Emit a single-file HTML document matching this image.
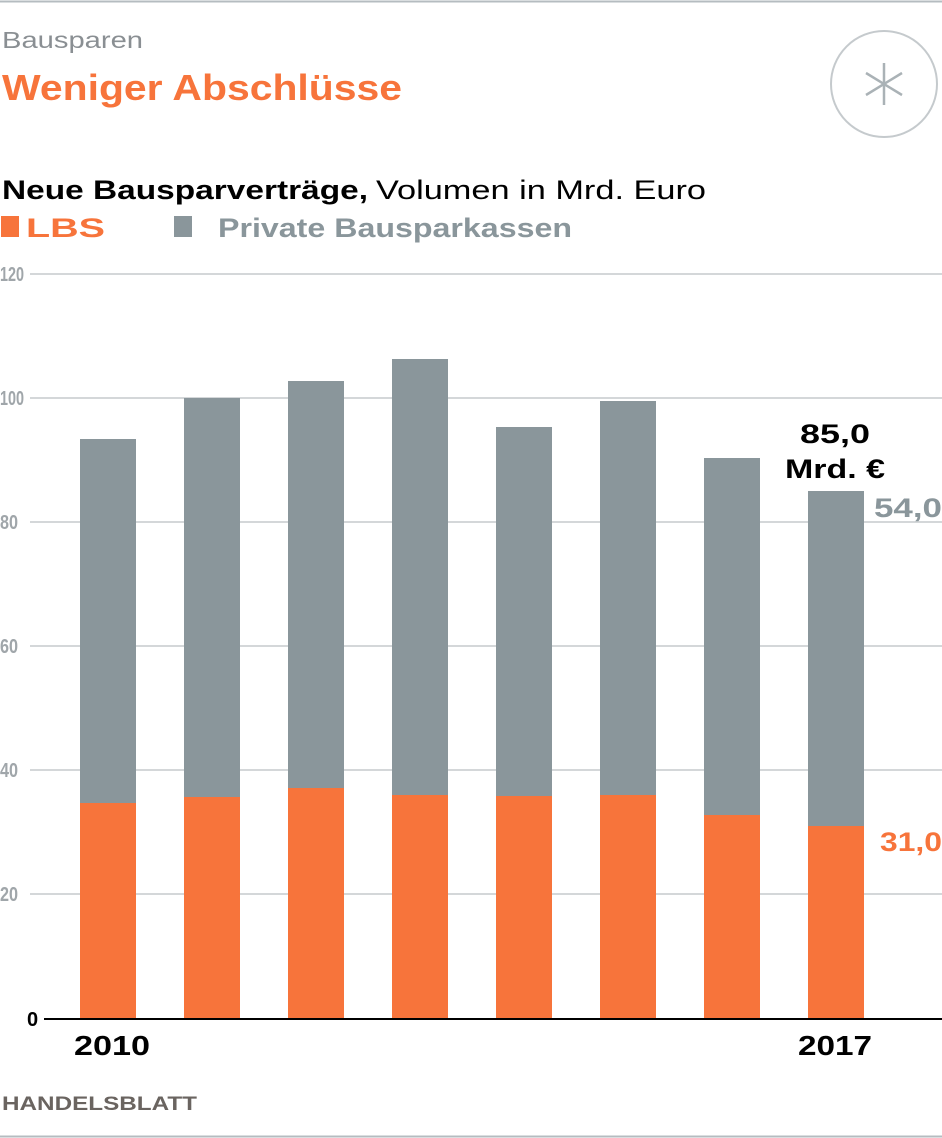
<!DOCTYPE html>
<html><head><meta charset="utf-8"><style>
body{margin:0;background:#fff;}
svg{display:block;font-family:"Liberation Sans",sans-serif;}
</style></head><body>
<svg width="942" height="1138" xmlns="http://www.w3.org/2000/svg">
<rect width="942" height="1138" fill="#fff"/>
<line x1="0" y1="1.5" x2="942" y2="1.5" stroke="#b5bcc0" stroke-width="2"/>
<line x1="0" y1="1136.5" x2="942" y2="1136.5" stroke="#b5bcc0" stroke-width="2"/>
<text x="2" y="48" font-size="23" fill="#8a8f93" textLength="141" lengthAdjust="spacingAndGlyphs">Bausparen</text>
<text x="2" y="100" font-size="36" font-weight="bold" fill="#f7743b" textLength="400" lengthAdjust="spacingAndGlyphs">Weniger Abschlüsse</text>
<circle cx="884" cy="84" r="53" fill="none" stroke="#c5cacd" stroke-width="2"/>
<g stroke="#aab2b6" stroke-width="2.5">
<line x1="884" y1="63" x2="884" y2="105"/>
<line x1="866" y1="73" x2="902" y2="95"/>
<line x1="866" y1="95" x2="902" y2="73"/>
</g>
<text x="2" y="199" font-size="27" font-weight="bold" fill="#000" textLength="366" lengthAdjust="spacingAndGlyphs">Neue Bausparverträge,</text>
<text x="376" y="199" font-size="27" fill="#000" textLength="330" lengthAdjust="spacingAndGlyphs">Volumen in Mrd. Euro</text>
<rect x="1" y="216" width="18" height="21" fill="#f7743b"/>
<text x="26" y="237" font-size="27" font-weight="bold" fill="#f7743b" textLength="79" lengthAdjust="spacingAndGlyphs">LBS</text>
<rect x="174" y="216" width="18" height="21" fill="#8a969b"/>
<text x="218" y="237" font-size="27" font-weight="bold" fill="#8a969b" textLength="354" lengthAdjust="spacingAndGlyphs">Private Bausparkassen</text>
<g stroke="#d4d7d9" stroke-width="2">
<line x1="30" y1="274" x2="942" y2="274"/>
<line x1="30" y1="398" x2="942" y2="398"/>
<line x1="30" y1="522" x2="942" y2="522"/>
<line x1="30" y1="646" x2="942" y2="646"/>
<line x1="30" y1="770" x2="942" y2="770"/>
<line x1="30" y1="894" x2="942" y2="894"/>
</g>
<g font-size="20" font-weight="bold" fill="#a0a6aa">
<text x="0" y="281" textLength="24" lengthAdjust="spacingAndGlyphs">120</text>
<text x="0" y="405" textLength="24" lengthAdjust="spacingAndGlyphs">100</text>
<text x="0" y="529" textLength="18" lengthAdjust="spacingAndGlyphs">80</text>
<text x="0" y="653" textLength="18" lengthAdjust="spacingAndGlyphs">60</text>
<text x="0" y="777" textLength="18" lengthAdjust="spacingAndGlyphs">40</text>
<text x="0" y="901" textLength="18" lengthAdjust="spacingAndGlyphs">20</text>
</g>
<text x="27" y="1026" font-size="20" font-weight="bold" fill="#000">0</text>
<g fill="#8a969b">
<rect x="80" y="439" width="56" height="364"/>
<rect x="184" y="398" width="56" height="399"/>
<rect x="288" y="381" width="56" height="407"/>
<rect x="392" y="359" width="56" height="436"/>
<rect x="496" y="427" width="56" height="369"/>
<rect x="600" y="401" width="56" height="394"/>
<rect x="704" y="458" width="56" height="357"/>
<rect x="808" y="491" width="56" height="335"/>
</g>
<g fill="#f7743b">
<rect x="80" y="803" width="56" height="216"/>
<rect x="184" y="797" width="56" height="222"/>
<rect x="288" y="788" width="56" height="231"/>
<rect x="392" y="795" width="56" height="224"/>
<rect x="496" y="796" width="56" height="223"/>
<rect x="600" y="795" width="56" height="224"/>
<rect x="704" y="815" width="56" height="204"/>
<rect x="808" y="826" width="56" height="193"/>
</g>
<line x1="44" y1="1019" x2="942" y2="1019" stroke="#000" stroke-width="2"/>
<text x="74" y="1055" font-size="28" font-weight="bold" fill="#000" textLength="76" lengthAdjust="spacingAndGlyphs">2010</text>
<text x="798" y="1055" font-size="28" font-weight="bold" fill="#000" textLength="74" lengthAdjust="spacingAndGlyphs">2017</text>
<text x="800" y="443" font-size="27" font-weight="bold" fill="#000" textLength="70" lengthAdjust="spacingAndGlyphs">85,0</text>
<text x="785" y="478" font-size="27" font-weight="bold" fill="#000" textLength="100" lengthAdjust="spacingAndGlyphs">Mrd. €</text>
<text x="874" y="517" font-size="27" font-weight="bold" fill="#8a969b" textLength="68" lengthAdjust="spacingAndGlyphs">54,0</text>
<text x="880" y="851" font-size="27" font-weight="bold" fill="#f7743b" textLength="62" lengthAdjust="spacingAndGlyphs">31,0</text>
<text x="2" y="1110" font-size="19" font-weight="bold" fill="#6a6460" textLength="195" lengthAdjust="spacingAndGlyphs">HANDELSBLATT</text>
</svg>
</body></html>
